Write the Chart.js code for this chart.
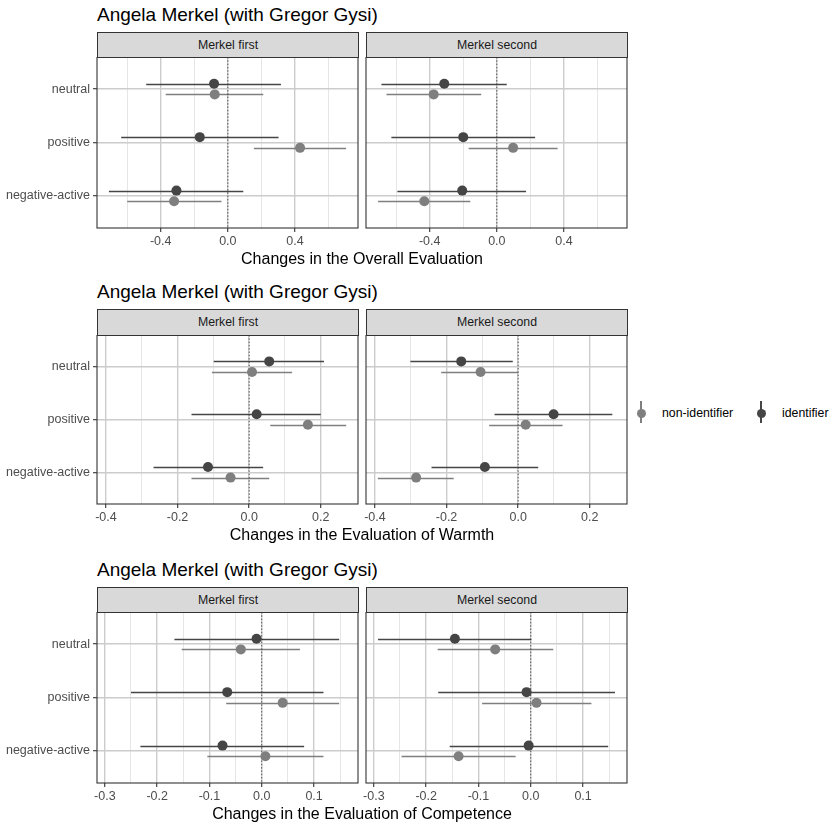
<!DOCTYPE html>
<html>
<head>
<meta charset="utf-8">
<script src="https://cdn.jsdelivr.net/npm/chart.js@4.4.1/dist/chart.umd.min.js"></script>
<style>
  body { margin: 0; background: #fff; font-family: "Liberation Sans", Arial, sans-serif; }
  #page { position: relative; width: 831px; height: 825px; overflow: hidden; background: #fff; }
  #page div, #page canvas { position: absolute; }
  .title { font-size: 19px; line-height: 19px; color: #000; white-space: nowrap; }
  .strip { box-sizing: border-box; background: #d9d9d9; border: 1px solid #333; font-size: 12.3px; color: #1a1a1a; text-align: center; }
  .axis-title { font-size: 16px; line-height: 16px; text-align: center; color: #000; white-space: nowrap; }
  .legend-text { font-size: 12.3px; line-height: 14px; color: #000; white-space: nowrap; }
</style>
</head>
<body>
<div id="page"></div>
<script>
const categories = ["neutral", "positive", "negative-active"];
const seriesNames = ["non-identifier", "identifier"];
const panelNames = ["Merkel first", "Merkel second"];
const rowTitle = "Angela Merkel (with Gregor Gysi)";
const axisTitles = [
    "Changes in the Overall Evaluation",
    "Changes in the Evaluation of Warmth",
    "Changes in the Evaluation of Competence"
];

// [estimate, lower, upper] for neutral, positive, negative-active
const overallFirstNon = [[-0.078, -0.370, 0.211], [0.430, 0.155, 0.704], [-0.320, -0.599, -0.038]];
const overallFirstId = [[-0.082, -0.486, 0.316], [-0.167, -0.635, 0.302], [-0.306, -0.708, 0.092]];
const overallSecondNon = [[-0.376, -0.657, -0.093], [0.097, -0.168, 0.362], [-0.432, -0.707, -0.158]];
const overallSecondId = [[-0.313, -0.687, 0.059], [-0.200, -0.628, 0.228], [-0.206, -0.592, 0.174]];

const warmthFirstNon = [[0.008, -0.104, 0.120], [0.164, 0.059, 0.271], [-0.052, -0.161, 0.056]];
const warmthFirstId = [[0.056, -0.099, 0.209], [0.021, -0.161, 0.200], [-0.115, -0.267, 0.039]];
const warmthSecondNon = [[-0.105, -0.215, 0.000], [0.021, -0.081, 0.124], [-0.285, -0.392, -0.180]];
const warmthSecondId = [[-0.159, -0.301, -0.015], [0.099, -0.066, 0.263], [-0.093, -0.242, 0.056]];

const competenceFirstNon = [[-0.040, -0.153, 0.073], [0.040, -0.068, 0.148], [0.007, -0.104, 0.118]];
const competenceFirstId = [[-0.010, -0.167, 0.148], [-0.066, -0.250, 0.118], [-0.075, -0.232, 0.081]];
const competenceSecondNon = [[-0.068, -0.178, 0.043], [0.011, -0.093, 0.116], [-0.138, -0.247, -0.029]];
const competenceSecondId = [[-0.145, -0.292, 0.001], [-0.008, -0.177, 0.161], [-0.004, -0.155, 0.148]];

// x axis ticks and limits per row
const overallTicks = [-0.4, 0, 0.4];
const overallMinor = [-0.6, -0.2, 0.2, 0.6];
const overallLimits = [-0.779, 0.775];
const warmthTicks = [-0.4, -0.2, 0, 0.2];
const warmthMinor = [-0.3, -0.1, 0.1];
const warmthLimits = [-0.425, 0.304];
const competenceTicks = [-0.3, -0.2, -0.1, 0, 0.1];
const competenceMinor = [-0.25, -0.15, -0.05, 0.05, 0.15];
const competenceLimits = [-0.315, 0.184];

const rows = [
    { panels: [[overallFirstNon, overallFirstId], [overallSecondNon, overallSecondId]], ticks: overallTicks, minor: overallMinor, limits: overallLimits },
    { panels: [[warmthFirstNon, warmthFirstId], [warmthSecondNon, warmthSecondId]], ticks: warmthTicks, minor: warmthMinor, limits: warmthLimits },
    { panels: [[competenceFirstNon, competenceFirstId], [competenceSecondNon, competenceSecondId]], ticks: competenceTicks, minor: competenceMinor, limits: competenceLimits }
];

// layout (pixels)
const rowLayout = [
    { title: 5, strip: 32, top: 57, bottom: 228 },
    { title: 282, strip: 309, top: 335, bottom: 504 },
    { title: 560, strip: 587, top: 612, bottom: 783 }
];
const panelX = [[97, 358], [366, 627]];
const seriesColors = ["#7f7f7f", "#454545"];
const FONT = "'Liberation Sans', Arial, sans-serif";
const MAJOR_GRID = "#cccccc";
const MINOR_GRID = "#e0e0e0";

const page = document.getElementById("page");

function addDiv(cls, text, css) {
    const d = document.createElement("div");
    d.className = cls;
    d.textContent = text;
    Object.assign(d.style, css);
    page.appendChild(d);
    return d;
}

// error bars drawn with the chart's own scales
const errorBars = {
    id: "errorBars",
    beforeDatasetsDraw(chart) {
        const { ctx, scales: { x, y } } = chart;
        chart.data.datasets.forEach(ds => {
            ctx.save();
            ctx.strokeStyle = ds.borderColor;
            ctx.lineWidth = 1.4;
            ds.data.forEach(p => {
                const py = Math.round(y.getPixelForValue(p.y)) + 0.5;
                ctx.beginPath();
                ctx.moveTo(x.getPixelForValue(p.lo), py);
                ctx.lineTo(x.getPixelForValue(p.hi), py);
                ctx.stroke();
            });
            ctx.restore();
        });
        // dotted zero line
        const zx = x.getPixelForValue(0);
        ctx.save();
        ctx.strokeStyle = "#333";
        ctx.lineWidth = 0.8;
        ctx.setLineDash([1.5, 1.8]);
        ctx.beginPath();
        ctx.moveTo(zx, chart.chartArea.top);
        ctx.lineTo(zx, chart.chartArea.bottom);
        ctx.stroke();
        ctx.restore();
    }
};

const panelBorder = {
    id: "panelBorder",
    afterDraw(chart) {
        const { ctx, chartArea: a } = chart;
        ctx.save();
        ctx.strokeStyle = "#333";
        ctx.lineWidth = 1.1;
        ctx.strokeRect(a.left, a.top, a.right - a.left, a.bottom - a.top);
        ctx.restore();
    }
};

function points(triples, offset) {
    return triples.map((t, i) => ({ x: t[0], y: categories.length - i + offset, lo: t[1], hi: t[2] }));
}

function buildPanel(r, c) {
    const L = rowLayout[r];
    const row = rows[r];
    const isLeft = c === 0;
    const panelH = L.bottom - L.top;
    const xAxisH = 30;
    const canvasLeft = isLeft ? 0 : panelX[1][0] - 4;
    const canvasW = panelX[c][1] + 2 - canvasLeft;
    const canvas = document.createElement("canvas");
    canvas.width = canvasW;
    canvas.height = panelH + xAxisH;
    Object.assign(canvas.style, { left: canvasLeft + "px", top: L.top + "px", width: canvasW + "px", height: (panelH + xAxisH) + "px" });
    page.appendChild(canvas);

    const isMajor = v => row.ticks.some(m => Math.abs(m - v) < 1e-9);
    const [nonData, idData] = row.panels[c];

    new Chart(canvas, {
        type: "scatter",
        data: {
            datasets: [
                { label: seriesNames[0], data: points(nonData, -0.1), backgroundColor: seriesColors[0], borderColor: seriesColors[0], borderWidth: 0, pointRadius: 5, pointHoverRadius: 5 },
                { label: seriesNames[1], data: points(idData, 0.1), backgroundColor: seriesColors[1], borderColor: seriesColors[1], borderWidth: 0, pointRadius: 5, pointHoverRadius: 5 }
            ]
        },
        options: {
            responsive: false,
            animation: false,
            events: [],
            layout: { autoPadding: false, padding: { left: 0, right: 2, top: 0, bottom: 0 } },
            plugins: { legend: { display: false }, tooltip: { enabled: false } },
            scales: {
                x: {
                    type: "linear",
                    min: row.limits[0],
                    max: row.limits[1],
                    afterBuildTicks: s => { s.ticks = [...row.ticks, ...row.minor].sort((a, b) => a - b).map(v => ({ value: v })); },
                    afterFit: s => { s.height = xAxisH; s.paddingLeft = 0; s.paddingRight = 0; s.paddingTop = 0; s.paddingBottom = 0; },
                    ticks: {
                        autoSkip: false, maxRotation: 0, padding: 2,
                        color: "#4d4d4d", font: { family: FONT, size: 12.5 },
                        callback: v => isMajor(v) ? v.toFixed(1) : ""
                    },
                    grid: {
                        color: ctx => isMajor(ctx.tick.value) ? MAJOR_GRID : MINOR_GRID,
                        lineWidth: ctx => isMajor(ctx.tick.value) ? 1.4 : 0.8,
                        tickColor: ctx => isMajor(ctx.tick.value) ? "#333" : "rgba(0,0,0,0)",
                        tickLength: 4, tickWidth: 1.1, drawTicks: true
                    },
                    border: { display: false }
                },
                y: {
                    type: "linear",
                    min: 0.4,
                    max: 3.6,
                    afterBuildTicks: s => { s.ticks = categories.map((cat, i) => ({ value: categories.length - i })); },
                    afterFit: s => { s.width = isLeft ? panelX[0][0] : 4; s.paddingTop = 0; s.paddingBottom = 0; s.paddingLeft = 0; s.paddingRight = 0; },
                    ticks: {
                        display: isLeft, padding: 3,
                        color: "#4d4d4d", font: { family: FONT, size: 12.5 },
                        callback: v => categories[categories.length - v]
                    },
                    grid: {
                        color: MAJOR_GRID, lineWidth: 1.4,
                        tickColor: "#333", tickWidth: 1.1,
                        tickLength: isLeft ? 4 : 0, drawTicks: isLeft
                    },
                    border: { display: false }
                }
            }
        },
        plugins: [errorBars, panelBorder]
    });

    addDiv("strip", panelNames[c], {
        left: panelX[c][0] + "px",
        top: L.strip + "px",
        width: (panelX[c][1] - panelX[c][0] + 1) + "px",
        height: (L.top - L.strip + 1) + "px",
        lineHeight: (L.top - L.strip - 1) + "px"
    });
}

rowLayout.forEach((L, r) => {
    addDiv("title", rowTitle, { left: "97px", top: L.title + "px" });
    buildPanel(r, 0);
    buildPanel(r, 1);
    addDiv("axis-title", axisTitles[r], {
        left: panelX[0][0] + "px",
        width: (panelX[1][1] - panelX[0][0]) + "px",
        top: (L.bottom + 23) + "px"
    });
});

// legend
const legendKeys = [641, 761];
seriesNames.forEach((name, i) => {
    const cx = legendKeys[i];
    addDiv("", "", { left: (cx - 0.7) + "px", top: "401px", width: "1.4px", height: "22px", background: seriesColors[i] });
    addDiv("", "", { left: (cx - 4.5) + "px", top: "408.5px", width: "9px", height: "9px", borderRadius: "50%", background: seriesColors[i] });
    addDiv("legend-text", name, { left: (cx + 21) + "px", top: "406px" });
});
</script>
</body>
</html>
